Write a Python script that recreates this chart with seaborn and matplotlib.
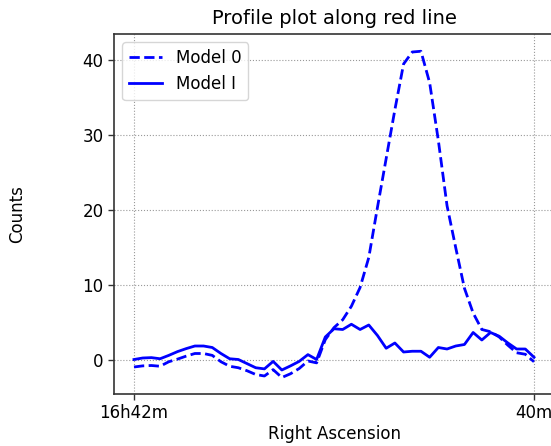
import numpy as np
import pandas as pd
import matplotlib
matplotlib.use("Agg")
import matplotlib.pyplot as plt
import seaborn as sns

# Profile samples taken along the red line (pixel index along the cut)
model0 = [-0.9, -0.75, -0.7, -0.8, -0.2, 0.15, 0.55, 0.9, 0.9, 0.65,
          -0.2, -0.8, -1.0, -1.4, -1.9, -2.1, -1.25, -2.3, -1.8, -1.1,
          -0.1, -0.35, 2.75, 4.35, 5.4, 7.2, 9.7, 13.7, 20.4, 26.9,
          33.4, 39.5, 41.1, 41.2, 37.0, 29.3, 20.6, 15.0, 9.6, 6.3,
          4.1, 3.8, 3.1, 2.0, 1.0, 0.8, -0.2]
model1 = [0.1, 0.3, 0.35, 0.2, 0.65, 1.15, 1.55, 1.9, 1.9, 1.7,
          0.9, 0.2, 0.1, -0.45, -1.0, -1.15, -0.15, -1.3, -0.75, -0.15,
          0.75, 0.1, 3.1, 4.2, 4.1, 4.8, 4.1, 4.7, 3.3, 1.6,
          2.3, 1.1, 1.2, 1.2, 0.4, 1.7, 1.5, 1.9, 2.1, 3.7,
          2.7, 3.7, 3.2, 2.3, 1.5, 1.5, 0.4]
series_names = ["Model 0", "Model I"]
tick_labels = ["16h42m", "40m"]
y_ticks = [0, 10, 20, 30, 40]

n = len(model0)
pos = np.arange(n)
df = pd.DataFrame({
    "pos": np.concatenate([pos, pos]),
    "counts": model0 + model1,
    "model": [series_names[0]] * n + [series_names[1]] * n,
})

fig = plt.figure(figsize=(5.51, 4.46), dpi=100)
# the axes reach just past the right edge of the canvas
ax = fig.add_axes([114 / 551, 52 / 446, 440 / 551, 360 / 446])

sns.lineplot(data=df, x="pos", y="counts", hue="model", style="model",
             hue_order=series_names, style_order=series_names,
             palette={series_names[0]: "blue", series_names[1]: "blue"},
             dashes={series_names[0]: (3.7, 1.6), series_names[1]: ""},
             linewidth=2, ax=ax, estimator=None, sort=False)

ax.set_xlim(-2.3, (n - 1) + 2.3)
ax.set_ylim(-4.5, 43.5)
ax.set_xticks([0, n - 1])
ax.set_xticklabels(tick_labels)
ax.set_yticks(y_ticks)
ax.tick_params(labelsize=12, length=4, width=1, color="#333333")
ax.grid(True, linestyle=":", color="#999999", linewidth=0.8)
ax.set_axisbelow(True)
for s in ax.spines.values():
    s.set_color("#333333")
    s.set_linewidth(1.2)
ax.spines["right"].set_visible(False)

ax.set_title("Profile plot along red line", fontsize=14, pad=7)
ax.set_xlabel("Right Ascension", fontsize=12, labelpad=2)
ax.set_ylabel("Counts", fontsize=12)
ax.yaxis.set_label_coords(-0.2, 0.5)

leg = ax.legend(loc="upper left", fontsize=12, handlelength=2.0,
                frameon=True, fancybox=True, edgecolor="#cccccc")
for h in leg.get_lines():
    h.set_linewidth(2)

fig.savefig("out.png", dpi=100)
